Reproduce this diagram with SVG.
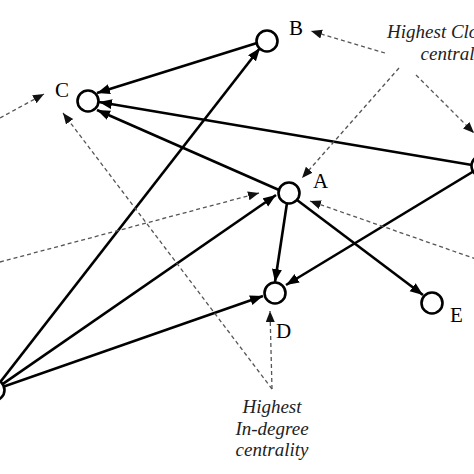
<svg xmlns="http://www.w3.org/2000/svg" width="474" height="474" viewBox="0 0 474 474">
<style>
.edge{stroke:#000;stroke-width:2.6;fill:none;marker-end:url(#ah)}
.dash{stroke:#555;stroke-width:1.3;fill:none;stroke-dasharray:4 3;marker-end:url(#dh)}
.node{fill:#fff;stroke:#000;stroke-width:2.6}
.lbl{font-family:"Liberation Serif","DejaVu Serif",serif;font-size:21px;fill:#000}
.note{font-family:"Liberation Serif","DejaVu Serif",serif;font-size:19px;font-style:italic;fill:#222;text-anchor:middle}
</style>
<defs>
<marker id="ah" markerUnits="userSpaceOnUse" markerWidth="14" markerHeight="11" refX="13" refY="5" orient="auto">
<path d="M0,0 L13,5 L0,10 z" fill="#000"/>
</marker>
<marker id="dh" markerUnits="userSpaceOnUse" markerWidth="12" markerHeight="10" refX="11" refY="4.5" orient="auto">
<path d="M0,0 L11,4.5 L0,9 z" fill="#111"/>
</marker>
</defs>
<rect width="474" height="474" fill="#fff"/>
<g id="connectors">
<line class="edge" x1="257" y1="43" x2="97" y2="93"/>
<line class="edge" x1="472" y1="165" x2="99" y2="102"/>
<line class="edge" x1="279" y1="190" x2="97" y2="110"/>
<line class="edge" x1="-6" y1="390" x2="260" y2="48"/>
<line class="edge" x1="-6" y1="390" x2="276" y2="195"/>
<line class="edge" x1="-6" y1="390" x2="263" y2="296"/>
<line class="edge" x1="287" y1="203" x2="275" y2="282"/>
<line class="edge" x1="474" y1="171" x2="286" y2="285"/>
<line class="edge" x1="297" y1="200" x2="423" y2="295"/>
<line class="dash" x1="0" y1="118" x2="44" y2="94"/>
<line class="dash" x1="272" y1="389" x2="63" y2="113"/>
<line class="dash" x1="272" y1="389" x2="270" y2="311"/>
<line class="dash" x1="0" y1="262" x2="259" y2="193"/>
<line class="dash" x1="399" y1="68" x2="302" y2="178"/>
<line class="dash" x1="385" y1="53" x2="311" y2="31"/>
<line class="dash" x1="416" y1="75" x2="474" y2="133"/>
<line class="dash" x1="476" y1="259" x2="310" y2="201"/>
</g>
<g id="node-A"><circle class="node" cx="289" cy="193" r="10.5"/><text class="lbl" x="313" y="188">A</text></g>
<g id="node-B"><circle class="node" cx="267" cy="41" r="10.5"/><text class="lbl" x="289" y="35">B</text></g>
<g id="node-C"><circle class="node" cx="88" cy="101" r="10.5"/><text class="lbl" x="55" y="97">C</text></g>
<g id="node-D"><circle class="node" cx="275" cy="293" r="10.5"/><text class="lbl" x="276" y="338">D</text></g>
<g id="node-E"><circle class="node" cx="432" cy="303" r="10.5"/><text class="lbl" x="450" y="322">E</text></g>
<g id="node-F"><circle class="node" cx="482" cy="166" r="10.5"/></g>
<g id="node-G"><circle class="node" cx="-6" cy="390" r="10.5"/></g>
<g id="note-closeness"><text class="note" x="457" y="38">Highest Closeness</text><text class="note" x="457" y="60">centrality</text></g>
<g id="note-indegree"><text class="note" x="272" y="413">Highest</text><text class="note" x="272" y="435">In-degree</text><text class="note" x="272" y="456">centrality</text></g>
</svg>
